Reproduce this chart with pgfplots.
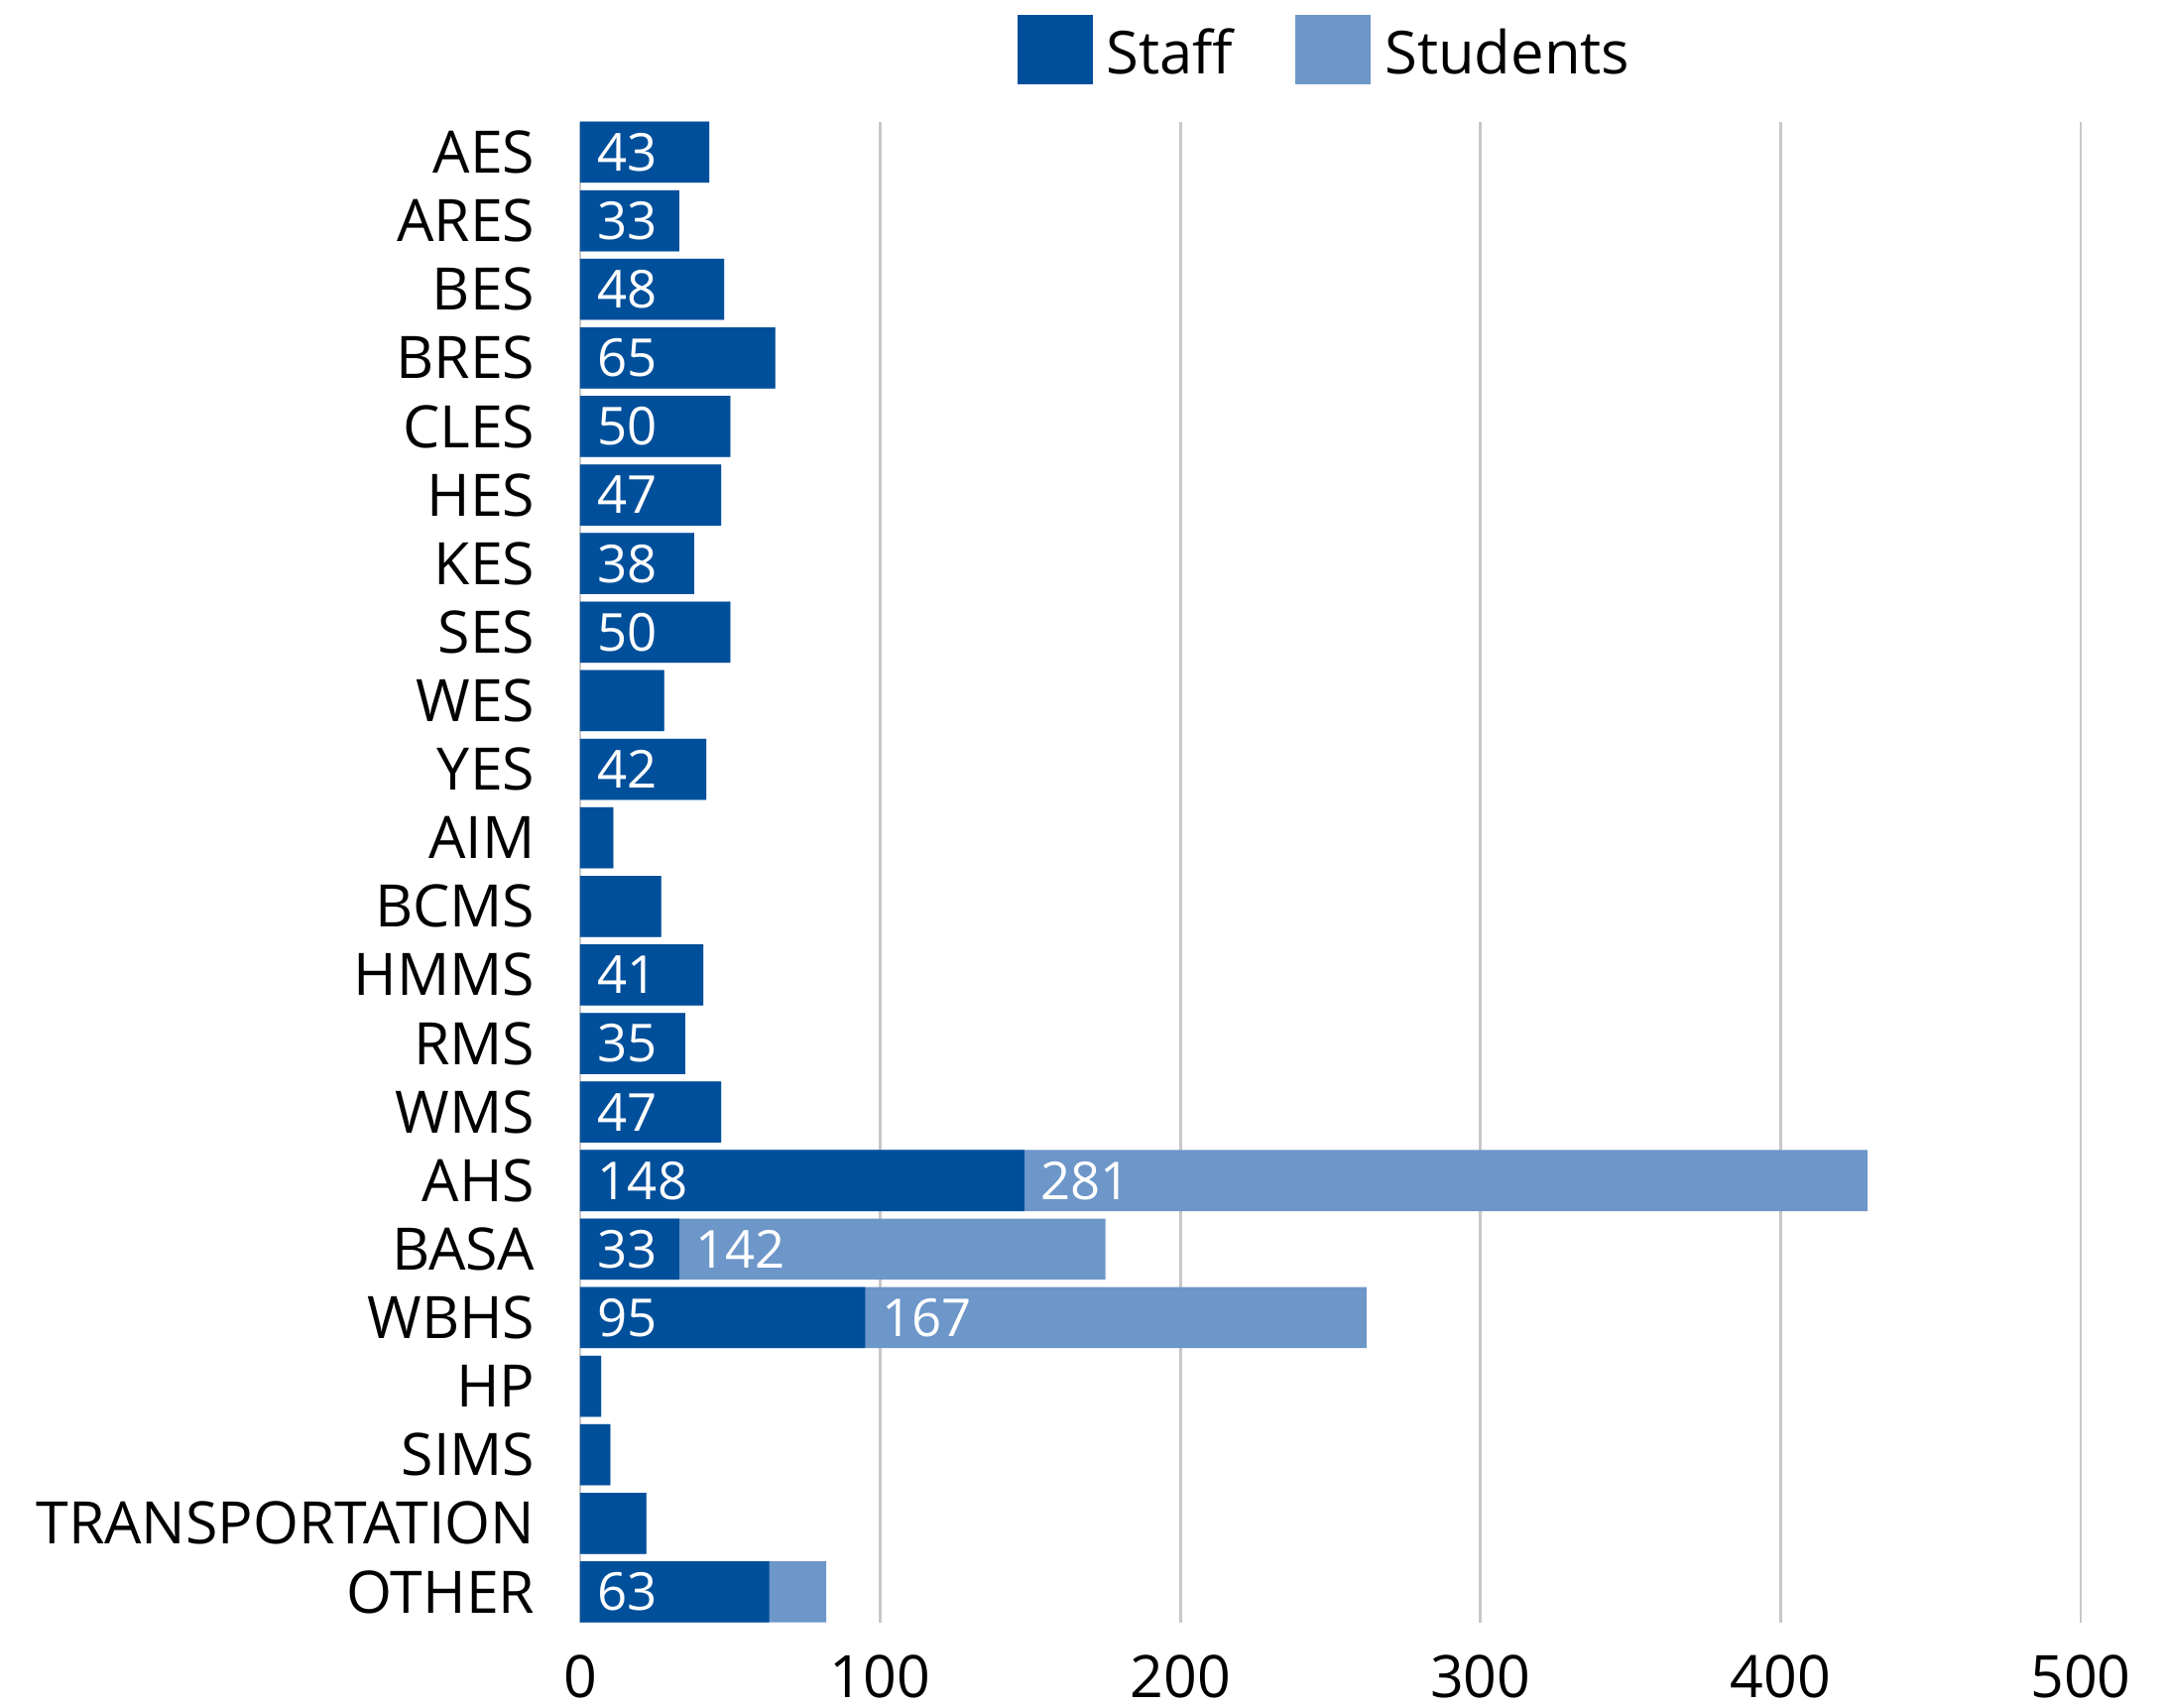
\documentclass[border=0pt]{standalone}
\usepackage{fontspec}
\setmainfont{Open Sans}
\usepackage{pgfplots}
\usepackage{pgfplotstable}
\pgfplotsset{compat=1.18}
\definecolor{staffc}{RGB}{0,79,155}
\definecolor{studc}{RGB}{109,150,201}
\definecolor{gridc}{RGB}{200,200,200}

\pgfplotstableread{
idx name staff students
0 AES 43 0
1 ARES 33 0
2 BES 48 0
3 BRES 65 0
4 CLES 50 0
5 HES 47 0
6 KES 38 0
7 SES 50 0
8 WES 28 0
9 YES 42 0
10 AIM 11 0
11 BCMS 27 0
12 HMMS 41 0
13 RMS 35 0
14 WMS 47 0
15 AHS 148 281
16 BASA 33 142
17 WBHS 95 167
18 HP 7 0
19 SIMS 10 0
20 TRANSPORTATION 22 0
21 OTHER 63 19
}\data

% print the value only when the segment is wide enough
\newcommand{\barlab}{\pgfmathfloattofixed{\pgfplotspointmeta}\ifdim\pgfmathresult pt<30pt\else\pgfmathprintnumber{\pgfplotspointmeta}\fi}

\begin{document}
\begin{tikzpicture}
  \path[use as bounding box] (-5.85cm,-0.853cm) rectangle (16.01cm,16.357cm);
  \begin{axis}[
    at={(0,0)}, anchor=south west,
    scale only axis, width=15.13cm, height=15.13cm,
    xmin=0, xmax=500, xtick={0,100,...,500},
    ymin=-0.445, ymax=21.445, y dir=reverse,
    ytick={0,...,21}, yticklabels from table={\data}{name},
    axis line style={draw=none}, major tick length=0pt,
    xmajorgrids, major grid style={gridc, line width=0.8pt},
    /pgf/number format/assume math mode=true,
    tick label style={font=\fontsize{16.8}{20}\selectfont},
    xticklabel style={anchor=north, inner sep=0pt, yshift=-0.32cm},
    yticklabel style={anchor=east, inner sep=0pt, xshift=-0.45cm},
    clip=false,
    legend image code/.code={\fill[#1, draw=none] (0cm,-0.35cm) rectangle (0.76cm,0.35cm);},
    legend style={at={(0.2908,1)}, anchor=west, yshift=0.73cm,
      draw=none, fill=none, inner sep=0pt, legend columns=2,
      font=\fontsize{17}{20}\selectfont,
      nodes={inner sep=0pt, yshift=-0.05cm},
      /tikz/every odd column/.style={column sep=0.14cm},
      /tikz/every even column/.style={column sep=0.63cm}},
  ]
    \addlegendimage{fill=staffc}
    \addlegendentry{Staff}
    \addlegendimage{fill=studc}
    \addlegendentry{Students}

    \addplot[xbar, bar width=0.89, bar shift=0pt, fill=studc, draw=none, forget plot]
      table[x expr=\thisrow{staff}+\thisrow{students}, y=idx]{\data};
    \addplot[xbar, bar width=0.89, bar shift=0pt, fill=staffc, draw=none, forget plot]
      table[x=staff, y=idx]{\data};

    \addplot[draw=none, mark=none, forget plot, point meta=explicit,
      nodes near coords={\barlab},
      nodes near coords style={anchor=west, inner sep=0pt, xshift=0.17cm, text=white,
        font=\fontsize{15}{18}\selectfont}]
      table[x expr=0, y=idx, meta=staff]{\data};
    \addplot[draw=none, mark=none, forget plot, point meta=explicit,
      nodes near coords={\barlab},
      nodes near coords style={anchor=west, inner sep=0pt, xshift=0.16cm, text=white,
        font=\fontsize{15}{18}\selectfont}]
      table[x=staff, y=idx, meta=students]{\data};
  \end{axis}
\end{tikzpicture}
\end{document}
